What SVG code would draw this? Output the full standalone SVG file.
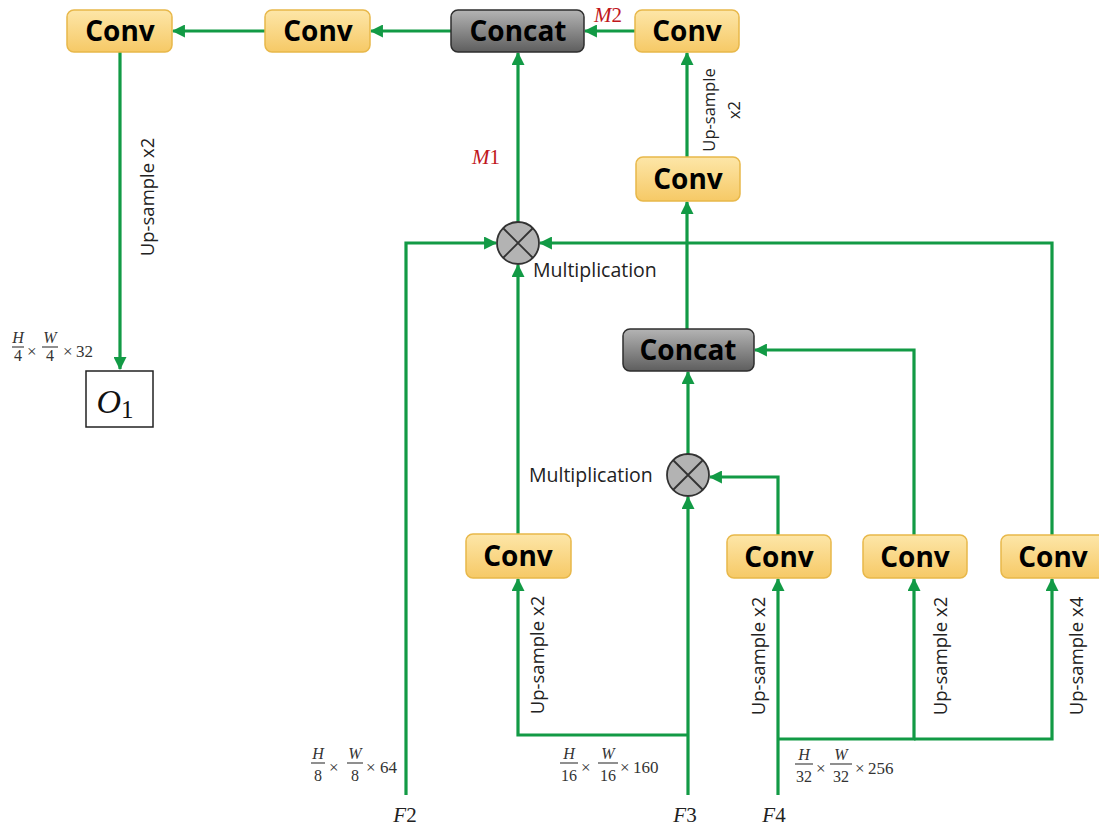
<svg xmlns="http://www.w3.org/2000/svg" width="1099" height="827" viewBox="0 0 1099 827">
<defs>
<linearGradient id="gConv" x1="0" y1="0" x2="0" y2="1">
<stop offset="0" stop-color="#fde6a8"/><stop offset="1" stop-color="#f6c966"/>
</linearGradient>
<linearGradient id="gCat" x1="0" y1="0" x2="0" y2="1">
<stop offset="0" stop-color="#b4b4b4"/><stop offset="1" stop-color="#5e5e5e"/>
</linearGradient>
<marker id="ar" viewBox="0 0 12 12" refX="11" refY="6" markerWidth="13" markerHeight="13" markerUnits="userSpaceOnUse" orient="auto">
<path d="M0,0 L12,6 L0,12 Z" fill="#129a45"/>
</marker>
<style>
.conv{fill:url(#gConv);stroke:#e8b84a;stroke-width:1.5}
.cat{fill:url(#gCat);stroke:#2e2e2e;stroke-width:1.5}
.bt{font-family:"Open Sans","Liberation Sans",sans-serif;font-weight:bold;font-size:28px;fill:#000;text-anchor:middle}
.ln{fill:none;stroke:#129a45;stroke-width:3.2}
.lbl{font-family:"Open Sans","Liberation Sans",sans-serif;font-size:18.5px;fill:#222}
.lsm{font-family:"Open Sans","Liberation Sans",sans-serif;font-size:16.5px;fill:#222}
.ml{font-family:"Open Sans","Liberation Sans",sans-serif;font-size:19.5px;fill:#222}
.mul{fill:#b3b3b3;stroke:#333;stroke-width:1.8}
.mx{stroke:#333;stroke-width:1.8}
.m{font-family:"Liberation Serif","DejaVu Serif",serif;font-size:17px;fill:#333}
.mi{font-family:"Liberation Serif","DejaVu Serif",serif;font-style:italic;font-size:16px;fill:#333;text-anchor:middle}
.mn{font-family:"Liberation Serif","DejaVu Serif",serif;font-size:16px;fill:#333;text-anchor:middle}
.fb{stroke:#333;stroke-width:1.1}
.red{font-family:"Liberation Serif","DejaVu Serif",serif;font-style:italic;font-size:21px;fill:#c0161c}
.F{font-family:"Liberation Serif","DejaVu Serif",serif;font-style:italic;font-size:21px;fill:#222;text-anchor:middle}
</style>
</defs>
<rect width="1099" height="827" fill="#fff"/>

<g id="connectors">
<path class="ln" d="M120,52 V369" marker-end="url(#ar)"/>
<path class="ln" d="M265,31 H173" marker-end="url(#ar)"/>
<path class="ln" d="M451,31 H371" marker-end="url(#ar)"/>
<path class="ln" d="M635,31 H585" marker-end="url(#ar)"/>
<path class="ln" d="M518,222 V53" marker-end="url(#ar)"/>
<path class="ln" d="M687,157 V53" marker-end="url(#ar)"/>
<path class="ln" d="M406,795 V243 H496" marker-end="url(#ar)"/>
<path class="ln" d="M1052,536 V243 H540" marker-end="url(#ar)"/>
<path class="ln" d="M518,534 V265" marker-end="url(#ar)"/>
<path class="ln" d="M687,329 V202" marker-end="url(#ar)"/>
<path class="ln" d="M688,454 V372" marker-end="url(#ar)"/>
<path class="ln" d="M688,795 V497" marker-end="url(#ar)"/>
<path class="ln" d="M688,735 H518 V579" marker-end="url(#ar)"/>
<path class="ln" d="M778,795 V579" marker-end="url(#ar)"/>
<path class="ln" d="M778,739 H914 V579" marker-end="url(#ar)"/>
<path class="ln" d="M914,739 H1052 V579" marker-end="url(#ar)"/>
<path class="ln" d="M778,536 V477 H710" marker-end="url(#ar)"/>
<path class="ln" d="M914,536 V350 H755" marker-end="url(#ar)"/>
</g>

<g id="conv1"><rect class="conv" x="67" y="10" width="105" height="42" rx="7"/><text class="bt" x="120" y="41">Conv</text></g>
<g id="conv2"><rect class="conv" x="265" y="10" width="105" height="42" rx="7"/><text class="bt" x="318" y="41">Conv</text></g>
<g id="concat1"><rect class="cat" x="451" y="10" width="133" height="42" rx="7"/><text class="bt" x="518" y="41">Concat</text></g>
<g id="conv3"><rect class="conv" x="635" y="10" width="104" height="42" rx="7"/><text class="bt" x="687" y="41">Conv</text></g>
<g id="conv4"><rect class="conv" x="636" y="157" width="104" height="44" rx="7"/><text class="bt" x="688" y="189">Conv</text></g>
<g id="mult1"><circle class="mul" cx="518" cy="243" r="21"/><path class="mx" d="M503,228 L533,258 M533,228 L503,258"/></g>
<g id="concat2"><rect class="cat" x="623" y="329" width="131" height="42" rx="7"/><text class="bt" x="688" y="360">Concat</text></g>
<g id="mult2"><circle class="mul" cx="688" cy="475" r="21"/><path class="mx" d="M673,460 L703,490 M703,460 L673,490"/></g>
<g id="conv5"><rect class="conv" x="466" y="534" width="105" height="44" rx="7"/><text class="bt" x="518" y="566">Conv</text></g>
<g id="conv6"><rect class="conv" x="727" y="535" width="104" height="43" rx="7"/><text class="bt" x="779" y="567">Conv</text></g>
<g id="conv7"><rect class="conv" x="863" y="535" width="104" height="43" rx="7"/><text class="bt" x="915" y="567">Conv</text></g>
<g id="conv8"><rect class="conv" x="1001" y="535" width="104" height="43" rx="7"/><text class="bt" x="1053" y="567">Conv</text></g>
<g id="o1"><rect x="86" y="371" width="67" height="56" fill="#fff" stroke="#222" stroke-width="1.5"/><text x="115" y="413" font-family="Liberation Serif,DejaVu Serif,serif" font-style="italic" font-size="34" fill="#111" text-anchor="middle">O<tspan font-style="normal" font-size="25" dy="5">1</tspan></text></g>

<g id="labels">
<text class="lbl" transform="translate(154,197) rotate(-90)" text-anchor="middle">Up-sample x2</text>
<text class="lsm" transform="translate(715,110) rotate(-90)" text-anchor="middle">Up-sample</text>
<text class="lsm" transform="translate(740,110) rotate(-90)" text-anchor="middle">x2</text>
<text class="lbl" transform="translate(544,655) rotate(-90)" text-anchor="middle">Up-sample x2</text>
<text class="lbl" transform="translate(765,656) rotate(-90)" text-anchor="middle">Up-sample x2</text>
<text class="lbl" transform="translate(947,656) rotate(-90)" text-anchor="middle">Up-sample x2</text>
<text class="lbl" transform="translate(1083,656) rotate(-90)" text-anchor="middle">Up-sample x4</text>
<text class="ml" x="533" y="277">Multiplication</text>
<text class="ml" x="529" y="482">Multiplication</text>
<text class="red" x="472" y="164">M<tspan font-style="normal">1</tspan></text>
<text class="red" x="594" y="22">M<tspan font-style="normal">2</tspan></text>
<text class="F" x="405" y="822">F<tspan font-style="normal">2</tspan></text>
<text class="F" x="685" y="822">F<tspan font-style="normal">3</tspan></text>
<text class="F" x="774" y="822">F<tspan font-style="normal">4</tspan></text>
</g>

<g id="dims">
<text class="mi" x="18" y="343">H</text><line class="fb" x1="12" y1="347" x2="24" y2="347"/><text class="mn" x="18" y="361">4</text>
<text class="m" x="27" y="357">×</text>
<text class="mi" x="50" y="343">W</text><line class="fb" x1="42" y1="347" x2="58" y2="347"/><text class="mn" x="50" y="361">4</text>
<text class="m" x="63" y="357">×</text><text class="m" x="76" y="357">32</text>

<text class="mi" x="318" y="759">H</text><line class="fb" x1="311" y1="763" x2="325" y2="763"/><text class="mn" x="318" y="781">8</text>
<text class="m" x="329" y="773">×</text>
<text class="mi" x="355" y="759">W</text><line class="fb" x1="347" y1="763" x2="363" y2="763"/><text class="mn" x="355" y="781">8</text>
<text class="m" x="366" y="773">×</text><text class="m" x="380" y="773">64</text>

<text class="mi" x="569" y="759">H</text><line class="fb" x1="560" y1="763" x2="578" y2="763"/><text class="mn" x="569" y="781">16</text>
<text class="m" x="581" y="773">×</text>
<text class="mi" x="608" y="759">W</text><line class="fb" x1="598" y1="763" x2="618" y2="763"/><text class="mn" x="608" y="781">16</text>
<text class="m" x="620" y="773">×</text><text class="m" x="633" y="773">160</text>

<text class="mi" x="804" y="760">H</text><line class="fb" x1="795" y1="764" x2="813" y2="764"/><text class="mn" x="804" y="782">32</text>
<text class="m" x="816" y="774">×</text>
<text class="mi" x="841" y="760">W</text><line class="fb" x1="830" y1="764" x2="852" y2="764"/><text class="mn" x="841" y="782">32</text>
<text class="m" x="855" y="774">×</text><text class="m" x="868" y="774">256</text>
</g>
</svg>
